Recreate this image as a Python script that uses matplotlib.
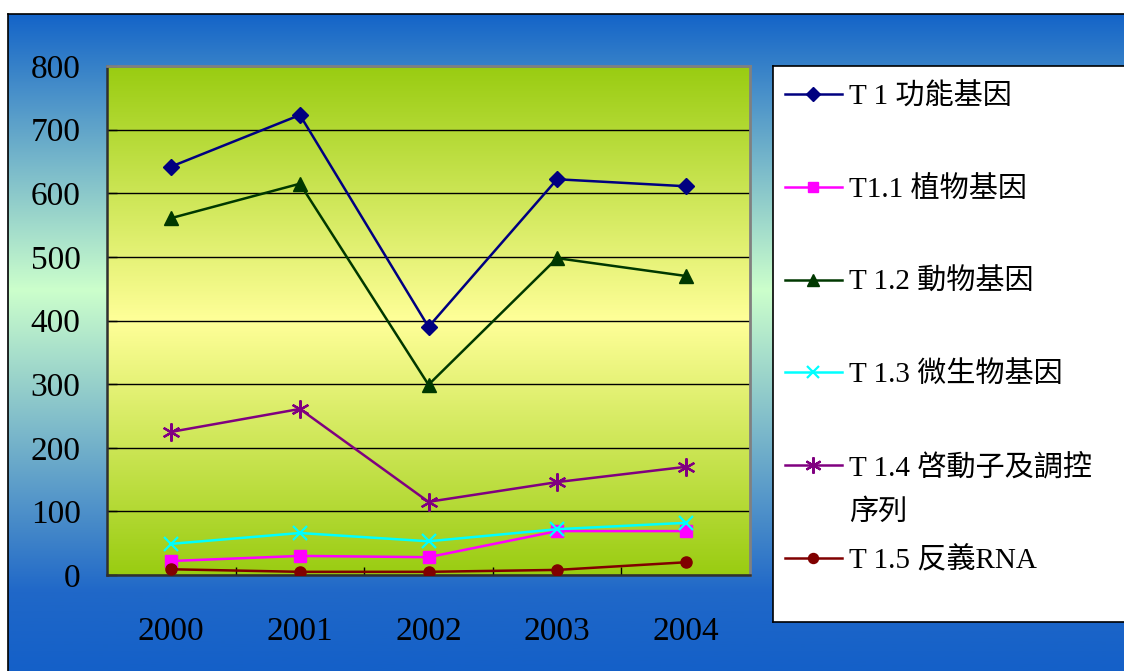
import matplotlib
matplotlib.use("Agg")
import matplotlib.pyplot as plt
import numpy as np
from matplotlib.colors import to_rgb

plt.rcParams['font.family'] = ['Liberation Serif', 'Noto Sans CJK TC', 'DejaVu Sans']

# data
years = ['2000', '2001', '2002', '2003', '2004']
t1 = [642, 723, 390, 622, 611]
t11 = [22, 30, 28, 69, 69]
t12 = [561, 615, 299, 498, 470]
t13 = [49, 66, 53, 72, 82]
t14 = [225, 261, 115, 146, 170]
t15 = [9, 5, 5, 8, 20]

labels = ['T 1 功能基因', 'T1.1 植物基因', 'T 1.2 動物基因', 'T 1.3 微生物基因',
          'T 1.4 啓動子及調控\n序列', 'T 1.5 反義RNA']
series = [t1, t11, t12, t13, t14, t15]
colors = ['#000080', '#ff00ff', '#003800', '#00ffff', '#800080', '#800000']
markers = ['D', 's', '^', 'x', (6, 2, 0), 'o']
msizes = [8, 8, 10, 10, 13, 8]

W, H = 1124, 671


def vgrad(stops, n=400):
    # vertical gradient image from (position, colour) stops, top = 0
    pos = np.array([s[0] for s in stops])
    cols = np.array([to_rgb(s[1]) for s in stops])
    t = np.linspace(0, 1, n)
    img = np.stack([np.interp(t, pos, cols[:, k]) for k in range(3)], axis=1)
    return img[:, None, :]


fig = plt.figure(figsize=(W / 100, H / 100), dpi=100)
fig.patch.set_facecolor('white')

# blue outer panel
bg = fig.add_axes([8 / W, 0, 1 - 8 / W, 1 - 14 / H])
bg.imshow(vgrad([(0, '#1464c8'), (0.42, '#ccffcc'), (0.88, '#2068c8'), (1, '#1460c8')]),
          aspect='auto', extent=[0, 1, 0, 1])
bg.set_xticks([])
bg.set_yticks([])
for s in ['right', 'bottom']:
    bg.spines[s].set_visible(False)
for s in ['left', 'top']:
    bg.spines[s].set_color('black')
    bg.spines[s].set_linewidth(1.2)

# plot area
ax = fig.add_axes([107 / W, (H - 575) / H, 643 / W, 509 / H])
ax.imshow(vgrad([(0, '#99cc11'), (0.5, '#ffff99'), (1, '#99cc11')]),
          aspect='auto', extent=[-0.5, 4.5, 0, 800], zorder=0)
x = np.arange(len(years))
for vals, c, m, ms in zip(series, colors, markers, msizes):
    ax.plot(x, vals, color=c, lw=1.8, marker=m, markersize=ms,
            markeredgewidth=1.6 if m in ('x', (6, 2, 0)) else 1, zorder=3)

ax.set_xlim(-0.5, 4.5)
ax.set_ylim(0, 800)
ax.set_yticks(range(0, 801, 100))
ax.yaxis.grid(True, color='black', lw=1)
ax.set_xticks(x)
ax.set_xticklabels(years)
ax.set_xticks(np.arange(0.5, 4, 1), minor=True)
ax.tick_params(axis='x', which='major', length=0, pad=30, labelsize=24)
ax.tick_params(axis='x', which='minor', direction='in', length=6, width=1, color='black')
ax.tick_params(axis='y', direction='in', length=7, width=1, pad=19, labelsize=24)
for s in ['top', 'right']:
    ax.spines[s].set_color('#808080')
    ax.spines[s].set_linewidth(2)
for s in ['left', 'bottom']:
    ax.spines[s].set_color('#303030')
    ax.spines[s].set_linewidth(1.8)

# legend box, drawn by hand so the wrapped entry keeps its key on the first line
lax = fig.add_axes([773 / W, (H - 622) / H, (W - 773) / W, 556 / H])
lax.set_xlim(0, W - 773)
lax.set_ylim(556, 0)
lax.set_xticks([])
lax.set_yticks([])
lax.set_facecolor('white')
lax.spines['right'].set_visible(False)
for s in ['left', 'top', 'bottom']:
    lax.spines[s].set_color('black')
    lax.spines[s].set_linewidth(1.2)

step = 92.8
for i, (lab, c, m, ms) in enumerate(zip(labels, colors, markers, msizes)):
    yy = 28 + i * step
    lax.plot([12, 69], [yy, yy], color=c, lw=1.8)
    lax.plot([40], [yy], color=c, marker=m, markersize=ms * 0.9,
             markeredgewidth=1.6 if m in ('x', (6, 2, 0)) else 1)
    for k, line in enumerate(lab.split('\n')):
        lax.text(76, yy + 3 + k * 44, line, fontsize=21, va='center', ha='left')

fig.savefig('out.png', dpi=100)
